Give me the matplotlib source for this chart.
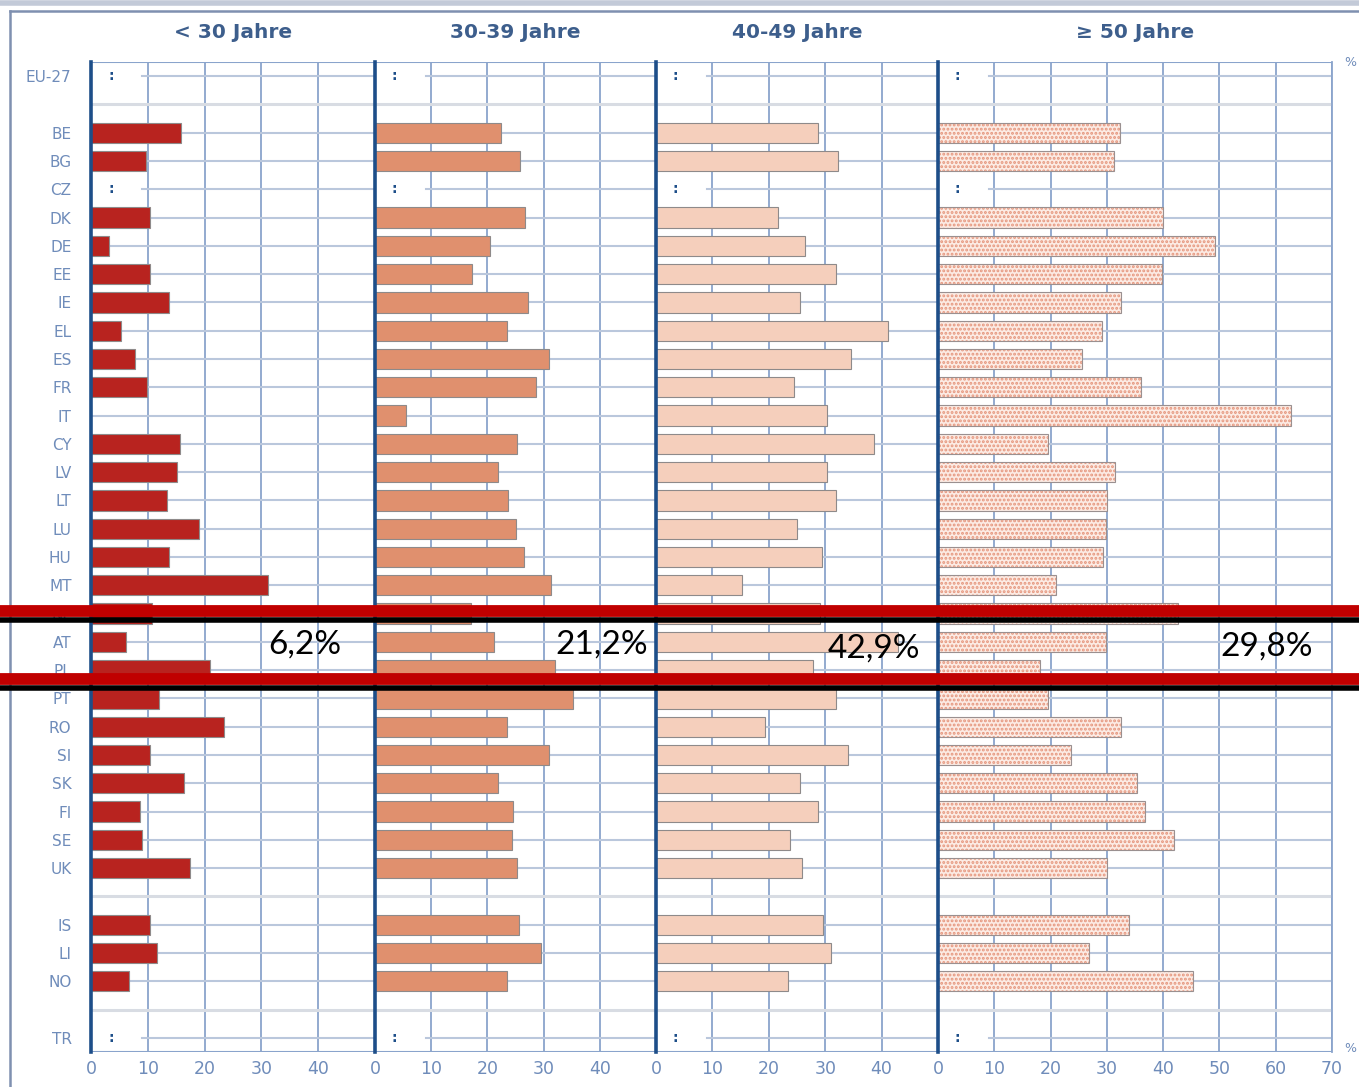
"""
Altersstruktur (Anteile in %) nach Altersgruppe und Land, vier Panels
mit gemeinsamer Laenderachse plus rote Markierung der AT-Zeile.
"""

import numpy as np
import matplotlib.pyplot as plt
from matplotlib.lines import Line2D

nan = np.nan

countries = ["EU-27", "BE", "BG", "CZ", "DK", "DE", "EE", "IE", "EL", "ES", "FR",
             "IT", "CY", "LV", "LT", "LU", "HU", "MT", "NL", "AT", "PL", "PT",
             "RO", "SI", "SK", "FI", "SE", "UK", "IS", "LI", "NO", "TR"]
# row groups (blank row between groups)
group_sizes = [1, 27, 3, 1]

panel_titles = ["< 30 Jahre", "30-39 Jahre", "40-49 Jahre", "\u2265 50 Jahre"]
panel_xmax = [50, 50, 50, 70]

# nan = ":" (keine Daten)
under_30 = [nan, 15.9, 9.7, nan, 10.3, 3.2, 10.3, 13.8, 5.3, 7.8, 9.9,
            0.0, 15.6, 15.2, 13.3, 19.1, 13.8, 31.2, 10.8, 6.2, 20.9, 12.0,
            23.5, 10.4, 16.3, 8.7, 9.0, 17.5, 10.4, 11.7, 6.7, nan]
age_30_39 = [nan, 22.5, 25.8, nan, 26.7, 20.4, 17.2, 27.3, 23.5, 31.0, 28.7,
             5.5, 25.3, 21.8, 23.7, 25.0, 26.5, 31.3, 17.0, 21.2, 32.0, 35.2,
             23.5, 31.0, 21.8, 24.6, 24.4, 25.3, 25.7, 29.6, 23.5, nan]
age_40_49 = [nan, 28.7, 32.2, nan, 21.6, 26.5, 31.9, 25.5, 41.1, 34.5, 24.4,
             30.4, 38.6, 30.4, 32.0, 25.0, 29.4, 15.2, 29.1, 42.9, 27.8, 31.9,
             19.3, 34.0, 25.5, 28.8, 23.7, 25.8, 29.6, 31.0, 23.4, nan]
over_50 = [nan, 32.4, 31.2, nan, 40.0, 49.2, 39.8, 32.6, 29.2, 25.5, 36.1,
           62.8, 19.5, 31.5, 30.1, 29.9, 29.4, 20.9, 42.6, 29.8, 18.2, 19.5,
           32.6, 23.7, 35.4, 36.8, 41.9, 30.1, 34.0, 26.9, 45.3, nan]

highlight_labels = ["6,2%", "21,2%", "42,9%", "29,8%"]

series = [under_30, age_30_39, age_40_49, over_50]
bar_colors = ["#B8231F", "#E0906E", "#F5CFBC", "#FCEBE4"]

# row positions with one empty row between groups
positions = []
blank_rows = []
pos = 0
for gi, n in enumerate(group_sizes):
    for _ in range(n):
        positions.append(pos)
        pos += 1
    if gi < len(group_sizes) - 1:
        blank_rows.append(pos)
        pos += 1
positions = np.array(positions)
n_rows = pos

W, H = 1359, 1087
fig = plt.figure(figsize=(W / 100, H / 100), dpi=100)
plt.rcParams["hatch.linewidth"] = 1.4

# panel edges in pixels
panel_x = [(91, 375), (375, 656), (656, 938), (938, 1332)]
top_px, bot_px = 62, 1052

navy = "#1D4E89"
grid_blue = "#8AA4CC"
row_line = "#BAC7DC"
blank_line = "#D8DCE3"
label_col = "#6F8CBA"

for p, (x0, x1) in enumerate(panel_x):
    ax = fig.add_axes([x0 / W, 1 - bot_px / H, (x1 - x0) / W, (bot_px - top_px) / H])
    xmax = panel_xmax[p]
    vals = np.array(series[p], dtype=float)
    ax.set_xlim(0, xmax)
    ax.set_ylim(n_rows - 0.5, -0.5)

    # grid
    for gx in range(10, xmax + 1, 10):
        ax.axvline(gx, color=grid_blue, lw=1.3, zorder=1)
    for ypos, v in zip(positions, vals):
        xmin = 9 / xmax if np.isnan(v) else 0
        ax.axhline(ypos, xmin=xmin, color=row_line, lw=1.5, zorder=1)
    for b in blank_rows:
        ax.axhline(b, color=blank_line, lw=2.2, zorder=1)
    ax.axhline(-0.5, color=grid_blue, lw=1.5, zorder=1)
    ax.axhline(n_rows - 0.5, color=grid_blue, lw=1.5, zorder=1)

    # bars
    ok = ~np.isnan(vals)
    if p < 3:
        ax.barh(positions[ok], vals[ok], height=0.72, color=bar_colors[p],
                edgecolor="#8E8A8A", linewidth=0.8, zorder=3)
    else:
        ax.barh(positions[ok], vals[ok], height=0.72, color=bar_colors[p],
                edgecolor="#E5957C", hatch="....", linewidth=0, zorder=3)
        ax.barh(positions[ok], vals[ok], height=0.72, fill=False,
                edgecolor="#9A9090", linewidth=0.8, zorder=4)

    # ":" for missing values
    for ypos in positions[~ok]:
        ax.text(3.5, ypos, ":", ha="center", va="center", fontsize=10,
                fontweight="bold", color=navy, zorder=5)

    for s in ["top", "bottom"]:
        ax.spines[s].set_visible(False)
    ax.spines["right"].set_visible(p == 3)
    ax.spines["right"].set_color(grid_blue)
    ax.spines["right"].set_linewidth(1.3)
    ax.spines["left"].set_color(navy)
    ax.spines["left"].set_linewidth(2.6)
    ax.spines["left"].set_zorder(6)

    ticks = list(range(0, xmax + 1, 10)) if p == 3 else list(range(0, xmax, 10))
    ax.set_xticks(ticks)
    ax.set_xticklabels([str(t) for t in ticks])
    ax.tick_params(axis="x", length=0, pad=6, labelsize=12.5, labelcolor=label_col)
    if p == 0:
        ax.set_yticks(positions)
        ax.set_yticklabels(countries)
        ax.tick_params(axis="y", length=0, pad=14, labelsize=11, labelcolor=label_col)
    else:
        ax.set_yticks([])
    ax.patch.set_alpha(0)

    fig.text((x0 + x1) / 2 / W, 1 - 33 / H, panel_titles[p], ha="center", va="center",
             fontsize=14.5, fontweight="bold", color="#3D5E8C")

# percent signs
fig.text(1350 / W, 1 - 62 / H, "%", ha="center", va="center", fontsize=9, color=label_col)
fig.text(1350 / W, 1 - 1048 / H, "%", ha="center", va="center", fontsize=9, color=label_col)

# outer frame of the source graphic
fig.add_artist(Line2D([0, 1], [1 - 2.5 / H] * 2, color="#C3CAD8", lw=4))
fig.add_artist(Line2D([10 / W, 1], [1 - 11 / H] * 2, color="#7F90B0", lw=1.8))
fig.add_artist(Line2D([10 / W] * 2, [0, 1 - 11 / H], color="#7F90B0", lw=1.8))

# red marker lines around the AT row
for y_red, y_blk in [(611, 620), (679, 688)]:
    fig.add_artist(Line2D([0, 1], [1 - y_blk / H] * 2, color="black", lw=4.0))
    fig.add_artist(Line2D([0, 1], [1 - y_red / H] * 2, color="#C00000", lw=8.5))

label_x = [305, 602, 874, 1267]
label_y = [645, 645, 649, 647]
for lx, ly, txt in zip(label_x, label_y, highlight_labels):
    fig.text(lx / W, 1 - ly / H, txt, ha="center", va="center", fontsize=24,
             family=["Lato", "DejaVu Sans"], color="black")

plt.savefig("out.png", dpi=100)
